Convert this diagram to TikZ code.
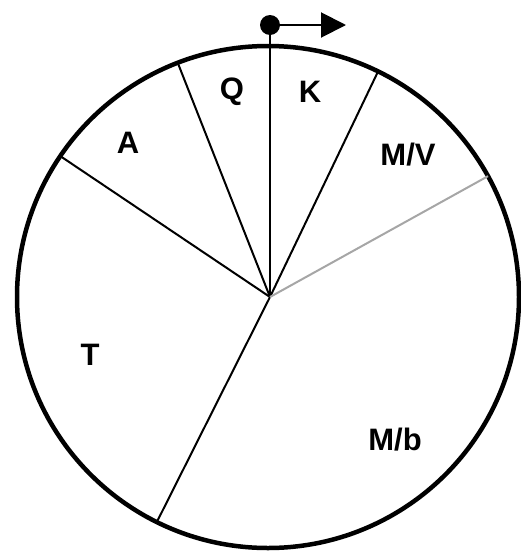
\documentclass[tikz,border=0pt]{standalone}
\usepackage{fontspec}
\setmainfont{Liberation Sans}
\usepackage{tikz}
\usetikzlibrary{arrows.meta, calc}

\begin{document}
\begin{tikzpicture}[x=1pt, y=-1pt,
    spoke/.style={line width=2pt, black},
    seclabel/.style={font=\bfseries\fontsize{31}{31}\selectfont, inner sep=0pt}]
    \useasboundingbox (0,0) rectangle (520,552);

    % ── WHEEL ─────────────────────────────────────────────────────────
    \coordinate (rim) at (268,297);
    \coordinate (hub) at (270,297);
    \draw[line width=4.5pt] (rim) circle (251pt);

    % Spokes (angle : length from the hub)
    \coordinate (top) at (270,25);
    \draw[spoke] (hub) -- (top);
    \draw[spoke] (hub) -- ++(111.5:251.7pt);
    \draw[spoke] (hub) -- ++(146.1:252.7pt);
    \draw[spoke] (hub) -- ++(64.4:250.1pt);
    \draw[spoke] (hub) -- ++(243.3:251.9pt);
    \draw[spoke, gray!70] (hub) -- ++(29:249.3pt);

    % Marker with direction arrow
    \fill (top) circle (10pt);
    \coordinate (tip) at (346,25);
    \draw[line width=2pt, -{Triangle[length=25pt, width=25pt]}] (top) -- (tip);

    % ── SECTOR LABELS ─────────────────────────────────────────────────
    \node[seclabel] (q) at (232,92) {Q};
    \node[seclabel] (k) at (310,92) {K};
    \node[seclabel] (a) at (128,143) {A};
    \node[seclabel] (mv) at (408,155) {M/V};
    \node[seclabel] (t) at (90,355) {T};
    \node[seclabel] (mb) at (395,440) {M/b};
\end{tikzpicture}
\end{document}
